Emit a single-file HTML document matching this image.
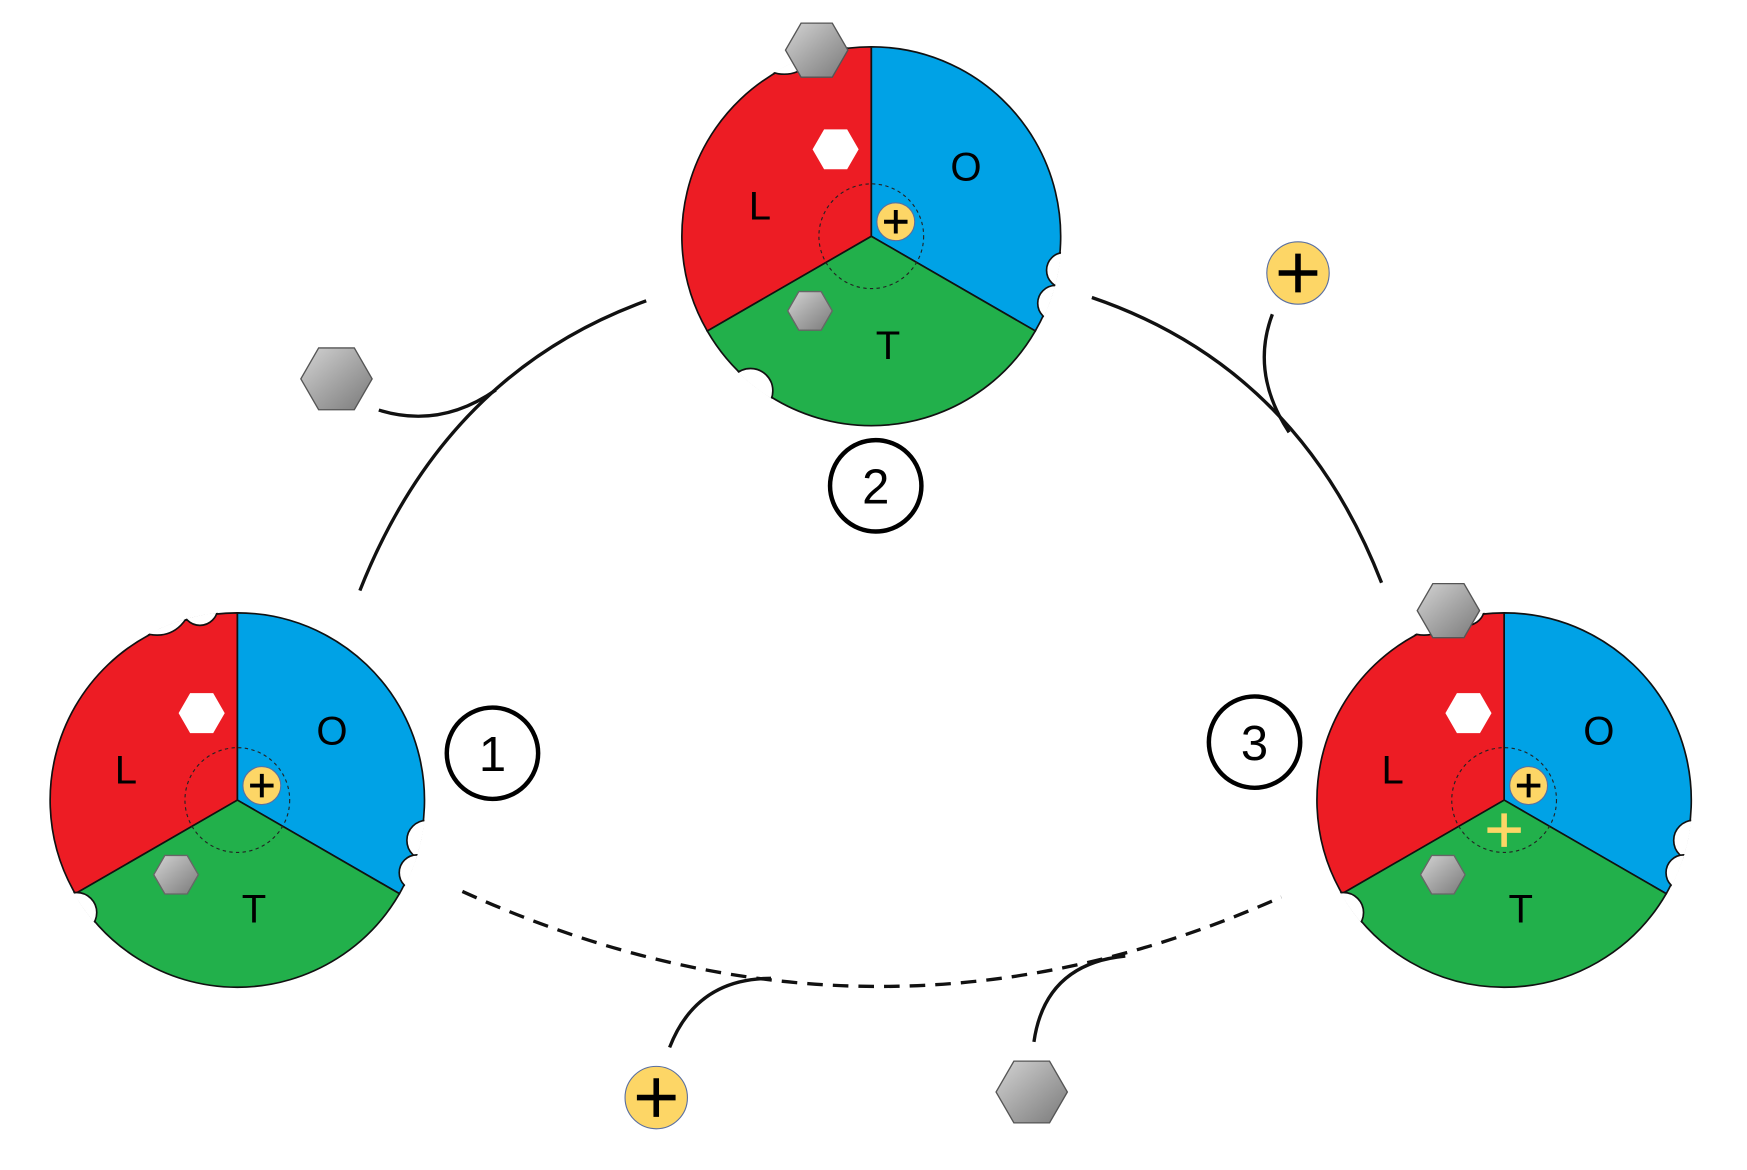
<!DOCTYPE html>
<html><head><meta charset="utf-8"><style>
html,body{margin:0;padding:0;background:#fff}
svg{display:block}
text{font-family:"Liberation Sans",sans-serif}
</style></head><body>
<svg width="1747" height="1170" viewBox="0 0 1568 1050" preserveAspectRatio="none">
<defs id="defs">
<linearGradient id="hg" x1="0" y1="0" x2="1" y2="1"><stop offset="0" stop-color="#d4d4d4"/><stop offset="0.5" stop-color="#a6a6a6"/><stop offset="1" stop-color="#7a7a7a"/></linearGradient>
</defs>
<g id="root"></g>
<script>
const NS="http://www.w3.org/2000/svg";
const root=document.getElementById('root');
const defs=document.getElementById('defs');
function el(t,a,p){const e=document.createElementNS(NS,t);for(const k in a)e.setAttribute(k,a[k]);(p||root).appendChild(e);return e;}
function pt(cx,cy,r,deg){const a=deg*Math.PI/180;return [cx+r*Math.cos(a),cy+r*Math.sin(a)];}
function sector(cx,cy,r,a0,a1,fill,g){const p0=pt(cx,cy,r,a0),p1=pt(cx,cy,r,a1);const large=((a1-a0+360)%360)>180?1:0;
return el('path',{d:`M${cx},${cy}L${p0[0]},${p0[1]}A${r},${r} 0 ${large} 1 ${p1[0]},${p1[1]}Z`,fill:fill,stroke:'#111','stroke-width':1.5},g);}
function hex(cx,cy,r,fill,g,stroke){let d='';for(let i=0;i<6;i++){const p=pt(cx,cy,r,i*60);d+=(i?'L':'M')+p[0]+','+p[1];}
return el('path',{d:d+'Z',fill:fill,stroke:stroke||'#555','stroke-width':1.2},g);}
function plus(cx,cy,r,g,big){el('circle',{cx:cx,cy:cy,r:r,fill:'#fdd666',stroke:'#5a6fa0','stroke-width':1},g);
const s=r*0.62,w=big?5:3.5;el('path',{d:`M${cx-s},${cy}H${cx+s}M${cx},${cy-s}V${cy+s}`,stroke:'#000','stroke-width':w},g);}
let cid=0;
function wheel(cx,cy,r,name,notches){
 const g=el('g',{});
 
 
 sector(cx,cy,r,-90,30,'#00a2e6',g);
 sector(cx,cy,r,30,150,'#22b04b',g);
 sector(cx,cy,r,150,270,'#ed1c24',g);
 const id='clip'+(cid++);
 const cp=el('clipPath',{id:id},defs);
 el('circle',{cx:cx,cy:cy,r:r+1},cp);
 notches.forEach(n=>{const p=pt(cx,cy,r+n[2],n[0]);
  el('circle',{cx:p[0],cy:p[1],r:n[1],fill:'#fff',stroke:'#111','stroke-width':1.5,'clip-path':'url(#'+id+')'},g);});
 el('circle',{cx:cx,cy:cy,r:47,fill:'none',stroke:'#222','stroke-width':1,'stroke-dasharray':'3,3'},g);
 const t=(x,y,s)=>{const e=el('text',{x:x,y:y,'font-size':36,'text-anchor':'middle'},g);e.textContent=s;};
 t(cx-100,cy-15,'L');t(cx+85,cy-50,'O');t(cx+15,cy+110,'T');
 hex(cx-32,cy-78,20,'#fff',g,'#fff');
 hex(cx-55,cy+67,20,'url(#hg)',g,'#666');
 plus(cx+22,cy-13,17,g,false);
 return g;}
wheel(213,718,168,'state-1-wheel',[[-101,16,8],[-112,30,24],[145,18,8],[12,18,6],[22,16,6]]);
wheel(782,212,170,'state-2-wheel',[[-103,18,6],[-114,30,22],[128,20,6],[10,16,6],[20,16,6]]);
const w3=wheel(1350,718,168,'state-3-wheel',[[-101,16,8],[-112,30,24],[145,18,8],[12,18,6],[22,16,6]]);
el('path',{d:'M1335,745H1365M1350,730V760',stroke:'#fdd666','stroke-width':5},w3);
hex(733,45,28,'url(#hg)');hex(1300,548,28,'url(#hg)');
const a1=el('path',{d:'M323,530Q400,335 580,270',fill:'none',stroke:'#111','stroke-width':3});

const a2=el('path',{d:'M980,267Q1165,330 1240,523',fill:'none',stroke:'#111','stroke-width':3});

const a3=el('path',{d:'M415,800Q785,968 1150,805',fill:'none',stroke:'#111','stroke-width':3,'stroke-dasharray':'14,9'});

el('path',{d:'M340,368Q395,385 445,350',fill:'none',stroke:'#111','stroke-width':3});
el('path',{d:'M1142,282Q1122,335 1157,388',fill:'none',stroke:'#111','stroke-width':3});
el('path',{d:'M601,940Q625,878 692,878',fill:'none',stroke:'#111','stroke-width':3});
el('path',{d:'M928,935Q938,865 1010,858',fill:'none',stroke:'#111','stroke-width':3});
const h1=hex(302,340,32,'url(#hg)');
const h2=hex(926,980,32,'url(#hg)');
plus(1165,245,28,root,true);plus(589,985,28,root,true);
[[442,676,'1'],[786,436,'2'],[1126,666,'3']].forEach(n=>{
 const g=el('g',{});
 
 
 el('circle',{cx:n[0],cy:n[1],r:41,fill:'#fff',stroke:'#000','stroke-width':4},g);
 const t=el('text',{x:n[0],y:n[1]+16,'font-size':44,'text-anchor':'middle'},g);t.textContent=n[2];});
</script>
</svg>
</body></html>
